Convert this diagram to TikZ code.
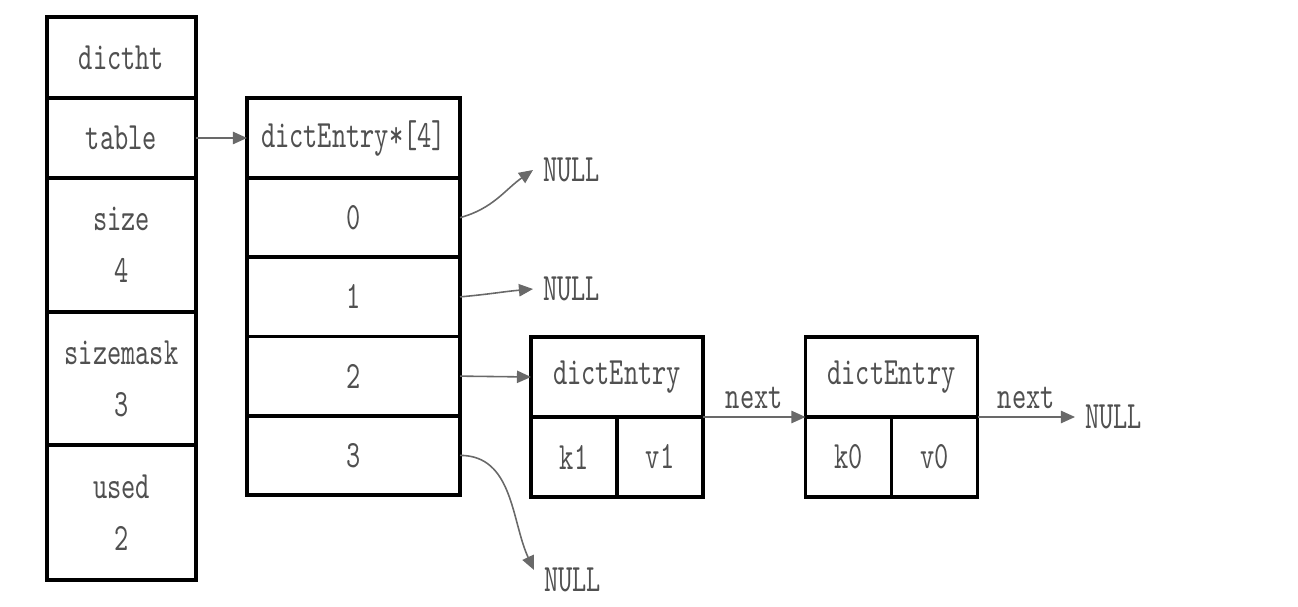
\documentclass[tikz,border=0pt]{standalone}
\usepackage{fontspec}
\setmonofont[FakeStretch=0.7]{lmmono10-regular.otf}
\usetikzlibrary{positioning, arrows.meta}
\definecolor{txt}{RGB}{80,80,80}
\definecolor{wire}{RGB}{105,105,105}
\tikzset{
  cell/.style={draw, line width=2pt, outer sep=0pt, inner sep=0pt, minimum width=2.98cm,
    align=center, text=txt, font=\ttfamily\fontsize{22}{29.6}\selectfont},
  ptr/.style={wire, line width=0.9pt, -{Triangle[length=8pt, width=7pt]}},
  nul/.style={text=txt, inner sep=0.2cm, anchor=west, font=\ttfamily\fontsize{22}{26}\selectfont}
}
\begin{document}
\begin{tikzpicture}
    \useasboundingbox (0,0) rectangle (25.96,12.12);
    % dictht
    \node[cell, minimum height=1.62cm] (dictht) at (2.43,10.97) {dictht};
    \node[cell, minimum height=1.6cm, below=0pt of dictht] (table) {table};
    \node[cell, minimum height=2.68cm, below=0pt of table] (size) {size\\4};
    \node[cell, minimum height=2.66cm, below=0pt of size] (sizemask) {sizemask\\3};
    \node[cell, minimum height=2.7cm, below=0pt of sizemask] (used) {used\\2};
    % Table array
    \node[cell, minimum width=4.26cm, minimum height=1.6cm] (arr) at (7.07,9.36) {dictEntry*[4]};
    \node[cell, minimum width=4.26cm, minimum height=1.585cm, below=0pt of arr] (r0) {0};
    \node[cell, minimum width=4.26cm, minimum height=1.585cm, below=0pt of r0] (r1) {1};
    \node[cell, minimum width=4.26cm, minimum height=1.585cm, below=0pt of r1] (r2) {2};
    \node[cell, minimum width=4.26cm, minimum height=1.585cm, below=0pt of r2] (r3) {3};
    % Entries
    \node[cell, minimum width=3.44cm, minimum height=1.6cm] (e1) at (12.34,4.58) {dictEntry};
    \node[cell, minimum width=1.72cm, minimum height=1.6cm, anchor=north west] (k1) at (e1.south west) {k1};
    \node[cell, minimum width=1.72cm, minimum height=1.6cm, right=0pt of k1] (v1) {v1};
    \node[cell, minimum width=3.44cm, minimum height=1.6cm] (e2) at (17.83,4.58) {dictEntry};
    \node[cell, minimum width=1.72cm, minimum height=1.6cm, anchor=north west] (k0) at (e2.south west) {k0};
    \node[cell, minimum width=1.72cm, minimum height=1.6cm, right=0pt of k0] (v0) {v0};
    % NULLs
    \node[nul] (n0) at (10.66,8.72) {NULL};
    \node[nul] (n1) at (10.66,6.34) {NULL};
    \node[nul] (n3) at (10.68,0.52) {NULL};
    \node[nul] (n4) at (21.5,3.78) {NULL};
    % Pointers
    \draw[ptr] (table.east) -- (arr.west);
    \draw[ptr] (r0.east) to[out=15, in=215] (n0.west);
    \draw[ptr] (r1.east) to[out=5, in=185] (n1.west);
    \draw[ptr] (r2.east) -- (e1.west);
    \draw[ptr] (r3.east) to[out=0, in=115] ([yshift=0.2cm]n3.west);
    \draw[ptr] (e1.south east) -- (e2.south west) node[midway, above=1pt, text=txt, font=\ttfamily\fontsize{22}{26}\selectfont] {next};
    \draw[ptr] (e2.south east) -- (n4.west) node[midway, above=1pt, text=txt, font=\ttfamily\fontsize{22}{26}\selectfont] {next};
\end{tikzpicture}
\end{document}
